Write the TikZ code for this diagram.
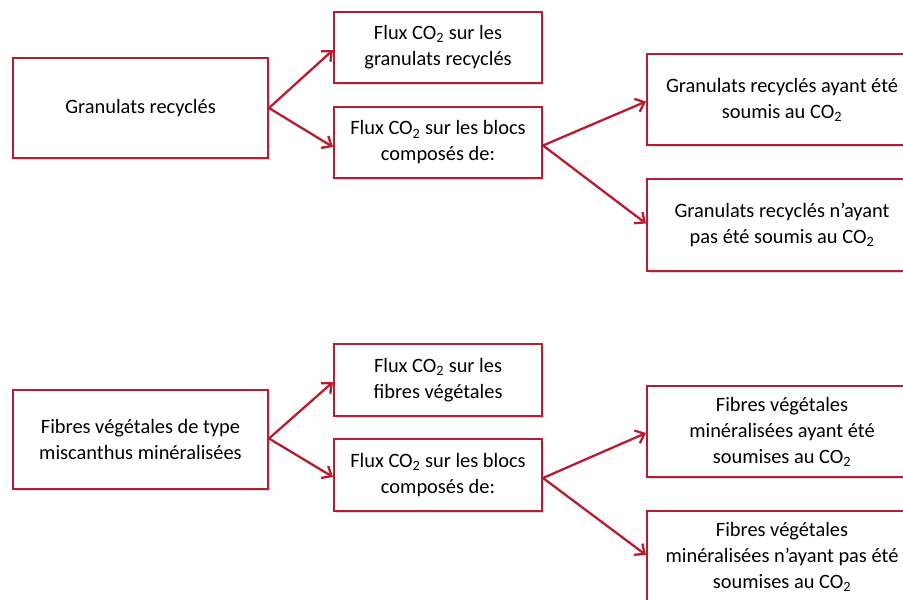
\documentclass[tikz,border=0pt]{standalone}
\usepackage{fontspec}
\setmainfont{Carlito}
\usetikzlibrary{arrows.meta,shadows,calc}

\definecolor{boxred}{RGB}{184,28,48}
\newcommand{\cotwo}{CO\textsubscript{2}}

\tikzset{
  box/.style={draw=boxred, line width=2pt, fill=white, align=center,
    inner sep=0pt, font=\fontsize{20.4}{26}\selectfont,
    drop shadow={shadow xshift=2pt, shadow yshift=-2pt, opacity=0.25, fill=black!60}},
  link/.style={draw=boxred, line width=2.3pt,
    -{Straight Barb[length=8pt,width=14pt]}},
}

\begin{document}
\begin{tikzpicture}[x=1pt, y=-1pt]
  \useasboundingbox (0,0) rectangle (903,600);
  \clip (0,0) rectangle (903,600);

  % upper tree: recycled aggregates
  \node[box, minimum width=255pt, minimum height=100pt] (a) at (140.5,108)
    {Granulats recyclés};
  \node[box, minimum width=208pt, minimum height=71pt] (b1) at (438,47.5)
    {Flux \cotwo{} sur les\\granulats recyclés};
  \node[box, minimum width=208pt, minimum height=71pt] (b2) at (438,142.5)
    {Flux \cotwo{} sur les blocs\\composés de:};
  \node[box, minimum width=270pt, minimum height=91pt] (c1) at (782,99.5)
    {Granulats recyclés ayant été\\soumis au \cotwo};
  \node[box, minimum width=270pt, minimum height=92pt] (c2) at (782,224.5)
    {Granulats recyclés n’ayant\\pas été soumis au \cotwo};

  % lower tree: mineralised plant fibres
  \node[box, minimum width=255pt, minimum height=99pt] (d) at (140.5,439.5)
    {Fibres végétales de type\\miscanthus minéralisées};
  \node[box, minimum width=208pt, minimum height=72pt] (e1) at (438,380)
    {Flux \cotwo{} sur les\\fibres végétales};
  \node[box, minimum width=208pt, minimum height=72pt] (e2) at (438,475)
    {Flux \cotwo{} sur les blocs\\composés de:};
  \node[box, minimum width=270pt, minimum height=91pt] (f1) at (782,431.5)
    {Fibres végétales\\minéralisées ayant été\\soumises au \cotwo};
  \node[box, minimum width=270pt, minimum height=91pt] (f2) at (782,556.5)
    {Fibres végétales\\minéralisées n’ayant pas été\\soumises au \cotwo};

  % connectors
  \draw[link] (a.east) -- ($(b1.west)+(0,2.5)$);
  \draw[link] (a.east) -- ($(b2.west)+(0,4.5)$);
  \draw[link] ($(b2.east)+(0,3)$) -- ($(c1.west)+(0,2)$);
  \draw[link] ($(b2.east)+(0,3)$) -- ($(c2.west)+(0,-1)$);

  \draw[link] ($(d.east)+(0,-1)$) -- ($(e1.west)+(0,2)$);
  \draw[link] ($(d.east)+(0,-1)$) -- ($(e2.west)+(0,2)$);
  \draw[link] ($(e2.east)+(0,3)$) -- ($(f1.west)+(0,1.5)$);
  \draw[link] ($(e2.east)+(0,3)$) -- ($(f2.west)+(0,-1.5)$);
\end{tikzpicture}
\end{document}
